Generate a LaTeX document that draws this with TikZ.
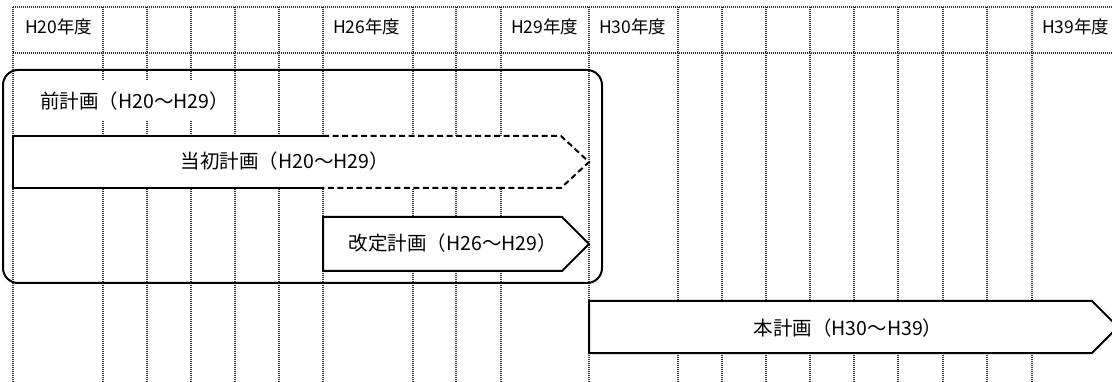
\documentclass[tikz,border=0pt]{standalone}
\usepackage{fontspec}
\setmainfont{Noto Sans CJK JP}
\begin{document}
\begin{tikzpicture}[x=1pt,y=-1pt,
  grid/.style={draw=black!80,line width=1.8pt,dash pattern=on 1pt off 1pt},
  planline/.style={draw=black,line width=2pt,line join=miter},
  dashline/.style={draw=black,line width=2pt,dash pattern=on 6pt off 3.5pt},
  hdr/.style={anchor=base west,inner sep=0pt,font=\fontsize{17.5}{20}\selectfont},
  lbl/.style={anchor=base,inner sep=0pt,font=\fontsize{19.5}{22}\selectfont}]
\useasboundingbox (0,0) rectangle (1112,382);
\begin{scope}
\clip (0,0) rectangle (1112,382);
% grid
\draw[grid] (13,7) -- (1120,7);
\draw[grid] (13,53) -- (1120,53);
\foreach \x in {13,103,147,191,235,279,323,413,456,501,589,678,722,766,810,854,898,943,987,1032}
  \draw[grid] (\x,7) -- (\x,382);
% outer rounded box
\draw[line width=2pt,rounded corners=15pt] (3,70) rectangle (602,283);
% label background
\fill[white] (20,80) rectangle (228,120);
% initial plan
\fill[white] (13,136) -- (561,136) -- (589,162) -- (561,188) -- (13,188) -- cycle;
\draw[planline] (323,136) -- (13,136) -- (13,188) -- (323,188);
\draw[dashline] (323,136) -- (561,136) -- (589,162) -- (561,188) -- (323,188);
% revised plan
\draw[planline,fill=white] (323,217) -- (562,217) -- (589,244) -- (562,271) -- (323,271) -- cycle;
% this plan
\draw[planline,fill=white] (589,301) -- (1092,301) -- (1118,327) -- (1092,353) -- (589,353) -- cycle;
\end{scope}
% header labels
\node[hdr] (h20) at (25,34) {H20年度};
\node[hdr] (h26) at (333,34) {H26年度};
\node[hdr] (h29) at (511,34) {H29年度};
\node[hdr] (h30) at (599,34) {H30年度};
\node[hdr] (h39) at (1042,34) {H39年度};
% plan labels
\node[lbl,anchor=base west] (pre) at (40,109) {前計画（H20〜H29）};
\node[lbl] (init) at (285,169) {当初計画（H20〜H29）};
\node[lbl] (rev) at (453,251) {改定計画（H26〜H29）};
\node[lbl] (main) at (848,335) {本計画（H30〜H39）};
\end{tikzpicture}
\end{document}
